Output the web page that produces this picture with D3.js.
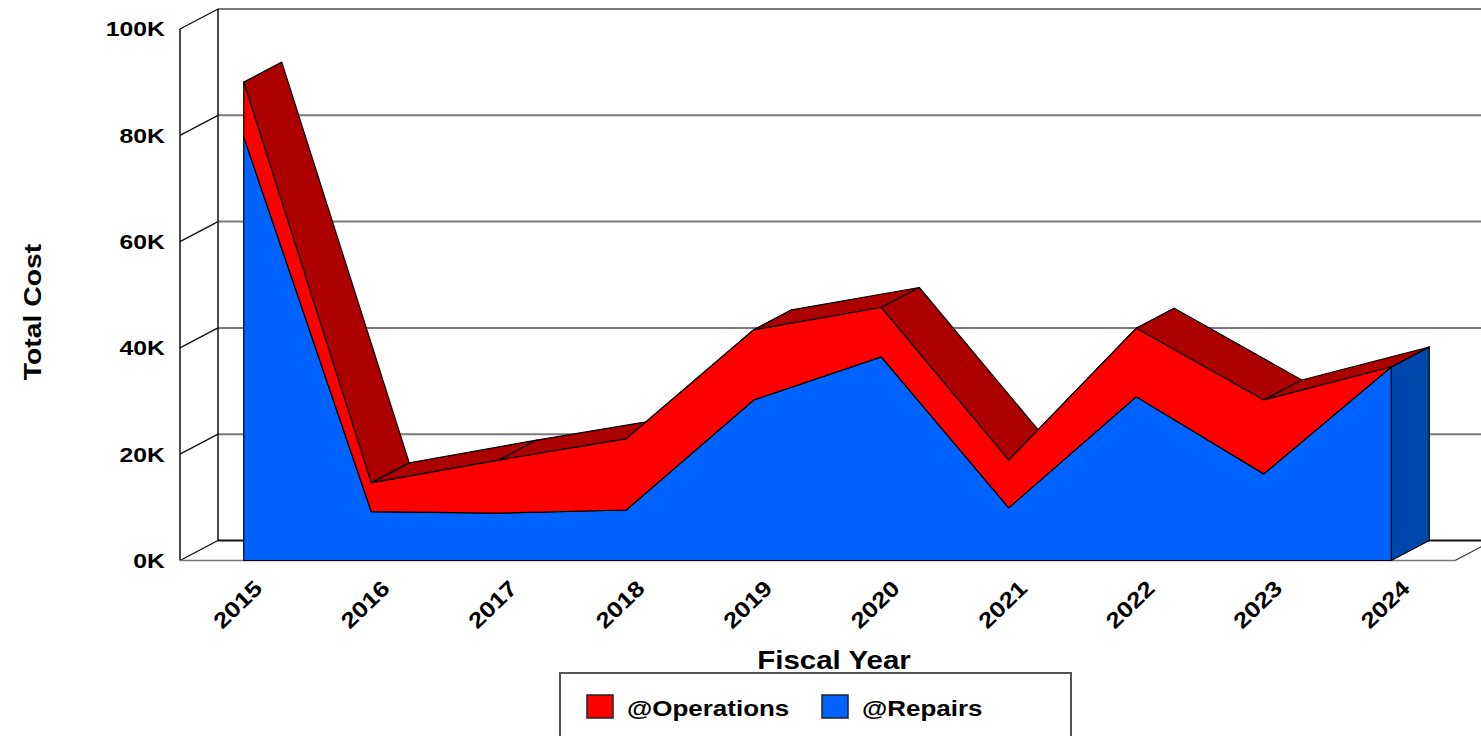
<!DOCTYPE html>
<html>
<head>
<meta charset="utf-8">
<script src="https://cdn.jsdelivr.net/npm/d3@7"></script>
<style>
body{margin:0;background:#fff;overflow:hidden}
text{font-family:"Liberation Sans",Arial,sans-serif;font-weight:bold;fill:#000}
</style>
</head>
<body>
<svg id="chart"></svg>
<script>
// values (K$)
const years=[2015,2016,2017,2018,2019,2020,2021,2022,2023,2024]
const repairs=[79700,9200,8900,9500,30200,38300,9900,30800,16300,36400]
const operations=[10300,5400,10000,13400,13200,9300,9000,12900,13900,0]
const yTicks=[0,20000,40000,60000,80000,100000]
const legendNames=['@Operations','@Repairs']

const W=1481,H=736
const depth={x:38,y:-20}
const front={left:180,right:1455,bottom:560.5,top:29}
const stretch=1.18

const colors={
  repairs:{front:'#0062ff',dark:'#0047ab'},
  operations:{front:'#ff0000',dark:'#ad0000'}
}

const rows=years.map((yr,i)=>({year:yr,repairs:repairs[i],operations:operations[i]}))
const stack=d3.stack().keys(['repairs','operations'])(rows)

const x=d3.scalePoint().domain(years).range([front.left,front.right]).padding(0.5)
const y=d3.scaleLinear().domain([0,100000]).range([front.bottom,front.top])

const svg=d3.select('#chart').attr('width',W).attr('height',H)

function label(g,px,py,angle,txt,size,anchor,baseline){
  return g.append('text')
    .attr('transform',`translate(${px},${py}) rotate(${angle}) scale(${stretch},1)`)
    .attr('font-size',size+'px')
    .attr('text-anchor',anchor||'start')
    .attr('dominant-baseline',baseline||'auto')
    .text(txt)
}

const walls=svg.append('g')
const backLeft=front.left+depth.x,backRight=front.right+depth.x

// back wall grid
walls.selectAll('line.grid').data(yTicks.filter(t=>t>0)).join('line')
  .attr('x1',backLeft).attr('x2',backRight+40)
  .attr('y1',d=>y(d)+depth.y).attr('y2',d=>y(d)+depth.y)
  .attr('stroke','#7a7a7a').attr('stroke-width',2)

// left wall: tick diagonals + verticals
walls.selectAll('line.tick').data(yTicks).join('line')
  .attr('x1',front.left).attr('x2',backLeft)
  .attr('y1',d=>y(d)).attr('y2',d=>y(d)+depth.y)
  .attr('stroke','#111').attr('stroke-width',1.4)
walls.append('line').attr('x1',front.left).attr('x2',front.left)
  .attr('y1',y(0)).attr('y2',y(100000)).attr('stroke','#111').attr('stroke-width',1.5)
walls.append('line').attr('x1',backLeft).attr('x2',backLeft)
  .attr('y1',y(0)+depth.y).attr('y2',y(100000)+depth.y).attr('stroke','#111').attr('stroke-width',1.5)

// floor
walls.append('line').attr('x1',backLeft).attr('x2',backRight+40)
  .attr('y1',y(0)+depth.y).attr('y2',y(0)+depth.y).attr('stroke','#111').attr('stroke-width',2.2)
walls.append('line').attr('x1',front.left).attr('x2',front.right)
  .attr('y1',y(0)).attr('y2',y(0)).attr('stroke','#777').attr('stroke-width',1.6)
walls.append('line').attr('x1',front.right).attr('x2',backRight)
  .attr('y1',y(0)).attr('y2',y(0)+depth.y).attr('stroke','#333').attr('stroke-width',1.2)

// 3D stacked area
const plot=svg.append('g').attr('stroke','#000').attr('stroke-width',1.2).attr('stroke-linejoin','round')
const poly=pts=>'M'+pts.map(p=>p.join(',')).join('L')+'Z'
const shift=p=>[p[0]+depth.x,p[1]+depth.y]

stack.forEach(layer=>{
  const c=colors[layer.key]
  const tops=layer.map(d=>[x(d.data.year),y(d[1])])
  const quads=d3.pairs(tops).map(([a,b])=>[a,b,shift(b),shift(a)])
  plot.append('g').selectAll('path').data(quads).join('path')
    .attr('d',poly).attr('fill',c.dark)
})
stack.forEach(layer=>{
  const c=colors[layer.key]
  const d=layer[layer.length-1]
  const bot=[x(d.data.year),y(d[0])],top=[x(d.data.year),y(d[1])]
  plot.append('path').attr('d',poly([bot,top,shift(top),shift(bot)])).attr('fill',c.dark)
})
const area=d3.area().x(d=>x(d.data.year)).y0(d=>y(d[0])).y1(d=>y(d[1]))
stack.forEach(layer=>{
  plot.append('path').attr('d',area(layer)).attr('fill',colors[layer.key].front)
})

// axis labels
const txt=svg.append('g')
yTicks.forEach(t=>label(txt,165,y(t),0,(t/1000)+'K',21,'end','central'))
years.forEach(yr=>label(txt,x(yr)+20,590,-44,String(yr),22,'end'))
label(txt,41,312,-90,'Total Cost',24,'middle')
label(txt,834,669,0,'Fiscal Year',25,'middle')

// legend
const leg=svg.append('g')
leg.append('rect').attr('x',560).attr('y',673).attr('width',511).attr('height',100)
  .attr('fill','#fff').attr('stroke','#555').attr('stroke-width',2)
const legItems=[{name:legendNames[0],color:colors.operations.front,x:587},{name:legendNames[1],color:colors.repairs.front,x:822}]
legItems.forEach(it=>{
  leg.append('rect').attr('x',it.x).attr('y',695).attr('width',26).attr('height',23)
    .attr('fill',it.color).attr('stroke','#222').attr('stroke-width',1.5)
  label(leg,it.x+40,716,0,it.name,22,'start')
})
</script>
</body>
</html>
